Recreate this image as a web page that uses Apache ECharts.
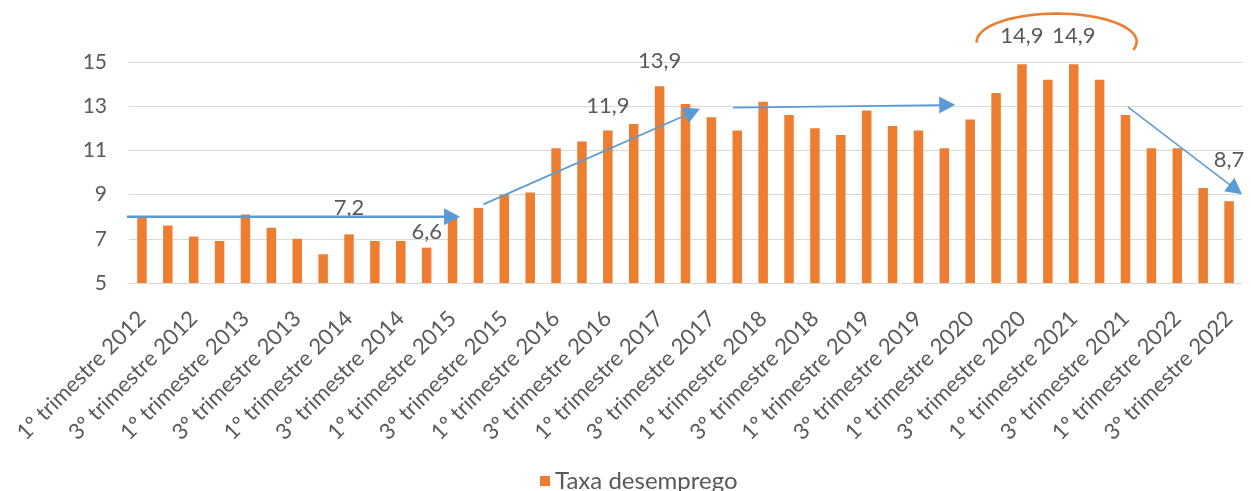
<!DOCTYPE html>
<html>
<head>
<meta charset="utf-8">
<script src="https://cdn.jsdelivr.net/npm/echarts@6/dist/echarts.min.js"></script>
<style>
  html, body { margin: 0; padding: 0; background: #ffffff; }
  #chart { width: 1251px; height: 491px; }
</style>
</head>
<body>
<div id="chart"></div>
<script>
// Quarterly unemployment rate (%), 2012 Q1 – 2022 Q3
const years = [2012, 2013, 2014, 2015, 2016, 2017, 2018, 2019, 2020, 2021, 2022];
const quarterLabels = ['1º trimestre', '2º trimestre', '3º trimestre', '4º trimestre'];
const taxaDesemprego = [
  8.0, 7.6, 7.1, 6.9,
  8.1, 7.5, 7.0, 6.3,
  7.2, 6.9, 6.9, 6.6,
  8.0, 8.4, 9.0, 9.1,
  11.1, 11.4, 11.9, 12.2,
  13.9, 13.1, 12.5, 11.9,
  13.2, 12.6, 12.0, 11.7,
  12.8, 12.1, 11.9, 11.1,
  12.4, 13.6, 14.9, 14.2,
  14.9, 14.2, 12.6, 11.1,
  11.1, 9.3, 8.7
];
const seriesName = 'Taxa desemprego';
const yTicks = [5, 7, 9, 11, 13, 15];

// Bars whose value is written above them
const labelledBars = [8, 11, 18, 20, 34, 36, 42];

// Trend arrows: [categoryIndex, value] from -> to
const trendArrows = [
  { from: [-0.58, 8.0], to: [12.29, 8.0], width: 2.6 },
  { from: [13.19, 8.56], to: [21.56, 12.88], width: 1.8 },
  { from: [22.84, 12.94], to: [31.42, 13.06], width: 1.8 },
  { from: [38.1, 12.96], to: [42.5, 9.02], width: 1.5 }
];
// Highlight arc over the two peaks: centre [categoryIndex, value], radii in categories / value units
const peakArc = { center: [35.34, 15.92], rx: 3.09, ry: 1.27, startDeg: 182, endDeg: -17 };

const categories = [];
for (const y of years) {
  for (const q of quarterLabels) {
    if (categories.length < taxaDesemprego.length) categories.push(q + ' ' + y);
  }
}

const FONT = 'Lato, "Open Sans", sans-serif';
const TEXT = '#595959';
const ORANGE = '#ED7D31';
const BLUE = '#5B9BD5';

const labelDistance = { 8: 15, 11: 5, 18: 14, 20: 14, 34: 17, 36: 17, 42: 30 };

const barData = taxaDesemprego.map((v, i) => {
  if (labelledBars.indexOf(i) < 0) return v;
  return {
    value: v,
    label: {
      show: true,
      position: 'top',
      distance: labelDistance[i],
      formatter: p => String(p.value.toFixed(1)).replace('.', ','),
      color: TEXT,
      fontFamily: FONT,
      fontSize: 22
    }
  };
});

const chart = echarts.init(document.getElementById('chart'), null, { renderer: 'canvas' });
chart.setOption({
  animation: false,
  backgroundColor: '#ffffff',
  grid: { left: 129, right: 9, top: 62, bottom: 208, containLabel: false },
  legend: {
    data: [seriesName],
    left: 535,
    top: 464,
    icon: 'rect',
    itemWidth: 10,
    itemHeight: 10,
    itemGap: 8,
    textStyle: { color: TEXT, fontFamily: FONT, fontSize: 24 }
  },
  xAxis: {
    type: 'category',
    data: categories,
    axisLine: { show: true, lineStyle: { color: '#D9D9D9', width: 1 } },
    axisTick: { show: false },
    axisLabel: {
      interval: 1,
      rotate: 45,
      margin: 32,
      color: TEXT,
      fontFamily: FONT,
      fontSize: 22
    }
  },
  yAxis: {
    type: 'value',
    min: yTicks[0],
    max: yTicks[yTicks.length - 1],
    interval: yTicks[1] - yTicks[0],
    axisLine: { show: false },
    axisTick: { show: false },
    splitLine: { lineStyle: { color: '#D9D9D9', width: 1 } },
    axisLabel: { color: TEXT, fontFamily: FONT, fontSize: 21, margin: 22 }
  },
  series: [{
    name: seriesName,
    type: 'bar',
    data: barData,
    barWidth: 9.5,
    itemStyle: { color: ORANGE },
    label: { show: false }
  }]
});

// Convert a (possibly fractional) category index and value to pixels
function toPx(i, v) {
  const p0 = chart.convertToPixel({ seriesIndex: 0 }, [0, v]);
  const p1 = chart.convertToPixel({ seriesIndex: 0 }, [1, v]);
  return [p0[0] + i * (p1[0] - p0[0]), p0[1]];
}

const graphics = [];
const HEAD_LEN = 16, HEAD_HALF = 8.5;
trendArrows.forEach(a => {
  const s = toPx(a.from[0], a.from[1]);
  const e = toPx(a.to[0], a.to[1]);
  const dx = e[0] - s[0], dy = e[1] - s[1];
  const len = Math.sqrt(dx * dx + dy * dy);
  const ux = dx / len, uy = dy / len;
  const bx = e[0] - ux * HEAD_LEN, by = e[1] - uy * HEAD_LEN;
  graphics.push({
    type: 'line',
    shape: { x1: s[0], y1: s[1], x2: bx + ux * 2, y2: by + uy * 2 },
    style: { stroke: BLUE, lineWidth: a.width },
    z: 10
  });
  graphics.push({
    type: 'polygon',
    shape: { points: [e, [bx - uy * HEAD_HALF, by + ux * HEAD_HALF], [bx + uy * HEAD_HALF, by - ux * HEAD_HALF]] },
    style: { fill: BLUE },
    z: 10
  });
});

// Elliptical arc over the peak labels
(function () {
  const c = toPx(peakArc.center[0], peakArc.center[1]);
  const rxPx = toPx(peakArc.center[0] + peakArc.rx, peakArc.center[1])[0] - c[0];
  const ryPx = c[1] - toPx(peakArc.center[0], peakArc.center[1] + peakArc.ry)[1];
  const pts = [];
  const steps = 80;
  for (let k = 0; k <= steps; k++) {
    const t = (peakArc.startDeg + (peakArc.endDeg - peakArc.startDeg) * k / steps) * Math.PI / 180;
    pts.push([c[0] + rxPx * Math.cos(t), c[1] - ryPx * Math.sin(t)]);
  }
  graphics.push({
    type: 'polyline',
    shape: { points: pts, smooth: 0 },
    style: { stroke: ORANGE, lineWidth: 2.6, fill: null },
    z: 10
  });
})();

chart.setOption({ graphic: graphics });
</script>
</body>
</html>
